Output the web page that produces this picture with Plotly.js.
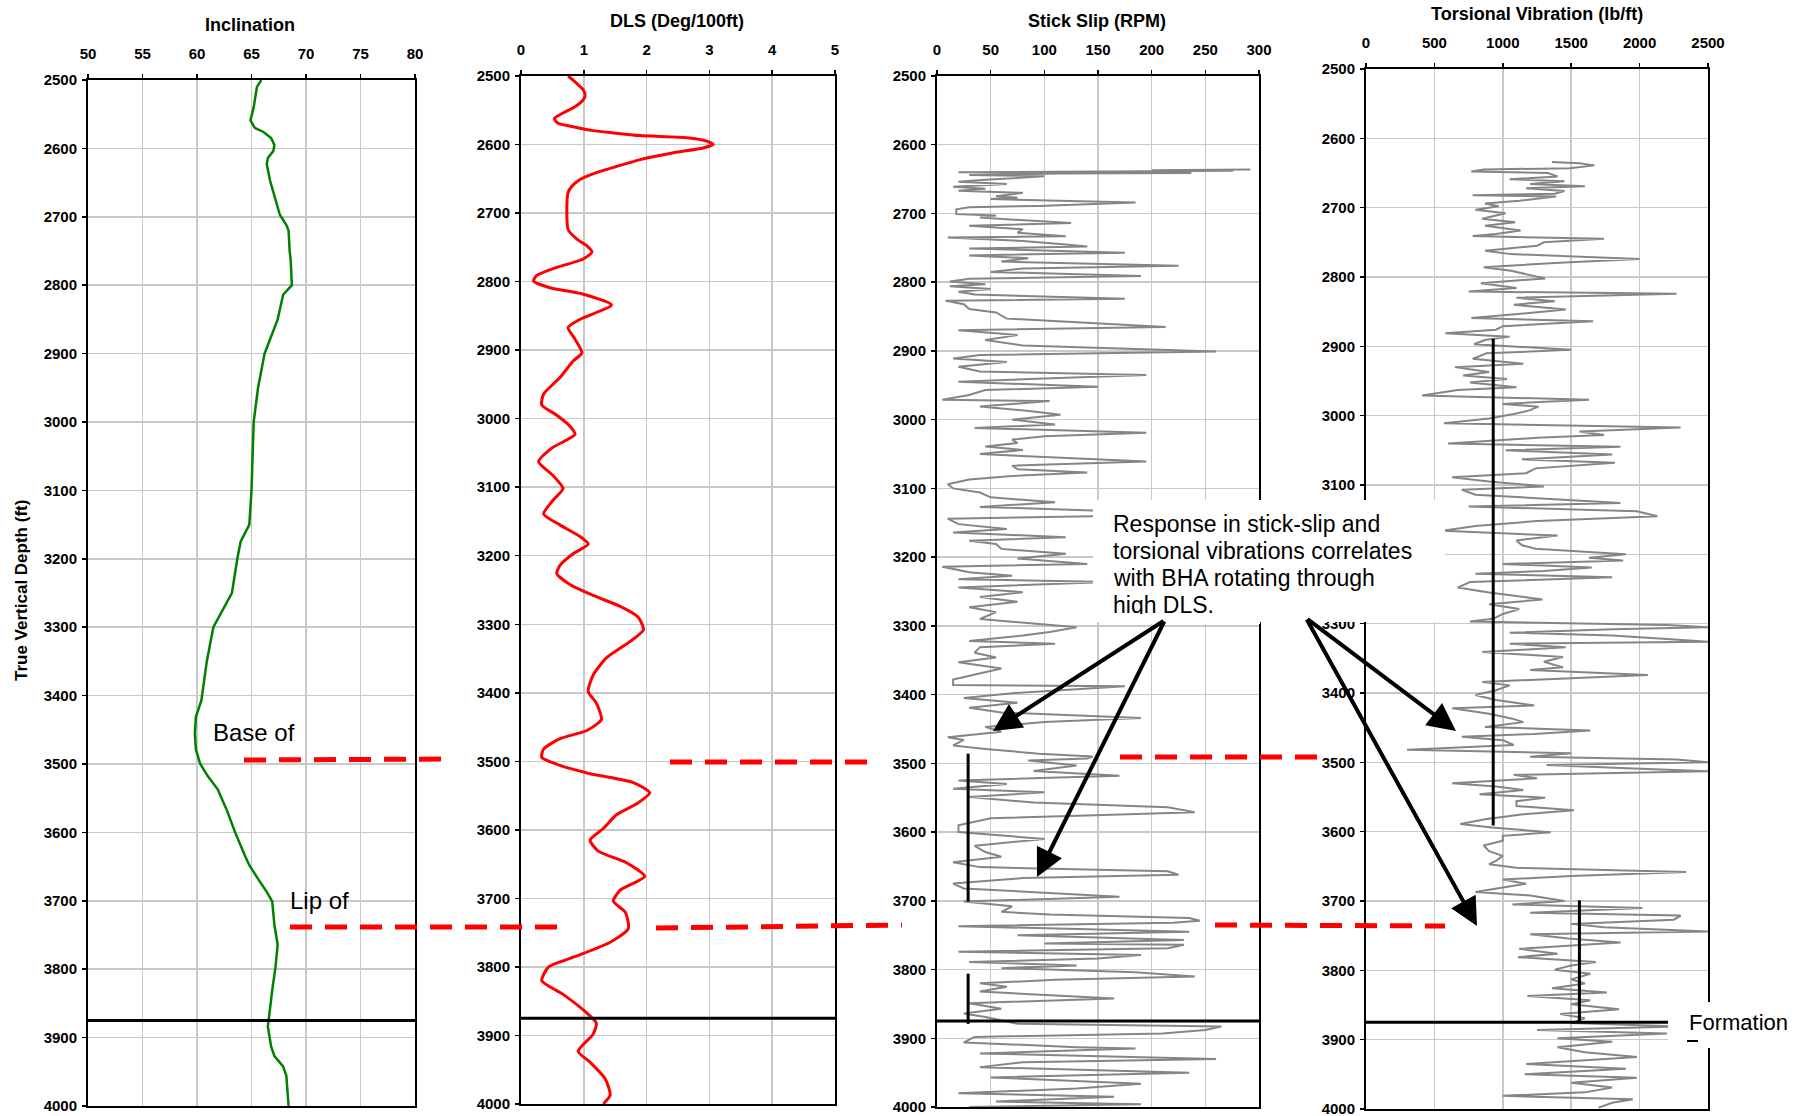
<!DOCTYPE html>
<html><head><meta charset="utf-8">
<script src="https://cdn.plot.ly/plotly-3.0.1.min.js"></script>
<style>html,body{margin:0;padding:0;background:#fff}#chart{width:1817px;height:1116px}</style>
</head><body><div id="chart"></div>
<script>
// ---------- DATA ----------
const depthTicks = [2500,2600,2700,2800,2900,3000,3100,3200,3300,3400,3500,3600,3700,3800,3900,4000];
const formationDepth = 3875;

const incDepth = [2500,2510,2520,2540,2559,2570,2576,2585,2595,2604,2614,2623,2647,2671,2697,2712,2720,2750,2764,2800,2814,2850,2900,2950,3000,3100,3150,3175,3200,3250,3300,3350,3407,3431,3455,3479,3500,3518,3537,3566,3600,3634,3648,3668,3687,3701,3735,3764,3797,3831,3865,3884,3913,3927,3942,3956,4000];
const incDeg   = [65.9,65.5,65.4,65.2,64.9,65.3,66.1,66.8,67.1,67.0,66.5,66.4,66.7,67.1,67.6,68.2,68.4,68.5,68.6,68.7,67.9,67.4,66.2,65.6,65.2,65.0,64.8,64.0,63.7,63.2,61.5,60.9,60.4,59.9,59.8,59.9,60.3,61.0,61.9,62.7,63.5,64.4,64.8,65.6,66.4,66.9,67.1,67.4,67.2,66.9,66.6,66.5,66.8,67.1,67.9,68.2,68.4];

const dlsDepth = [2500,2506,2520,2528,2535,2545,2554,2562,2569,2574,2579,2583,2587,2590,2595,2600,2605,2612,2622,2632,2641,2651,2661,2670,2700,2724,2738,2748,2757,2767,2781,2791,2799,2809,2818,2834,2855,2867,2884,2904,2916,2940,2964,2980,2995,3011,3023,3043,3063,3083,3102,3119,3139,3155,3172,3183,3197,3214,3226,3242,3258,3274,3290,3308,3325,3349,3374,3398,3415,3439,3455,3467,3482,3494,3506,3518,3531,3546,3562,3578,3598,3615,3631,3648,3668,3688,3704,3720,3744,3764,3784,3800,3820,3840,3865,3882,3898,3923,3939,3963,3987,4000];
const dlsVal   = [0.75,0.83,0.99,1.02,0.99,0.86,0.67,0.53,0.59,0.83,1.1,1.47,1.9,2.64,2.96,3.06,2.9,2.43,1.9,1.52,1.2,0.94,0.81,0.75,0.73,0.75,0.89,1.05,1.13,0.99,0.51,0.25,0.2,0.46,0.98,1.44,0.94,0.75,0.86,0.97,0.83,0.62,0.36,0.33,0.57,0.78,0.86,0.49,0.28,0.51,0.67,0.51,0.36,0.62,0.94,1.07,0.83,0.62,0.57,0.78,1.15,1.58,1.87,1.95,1.74,1.36,1.15,1.07,1.2,1.28,1.05,0.62,0.36,0.33,0.62,1.1,1.79,2.05,1.84,1.52,1.31,1.1,1.23,1.68,1.97,1.58,1.47,1.66,1.71,1.42,0.89,0.44,0.33,0.67,1.02,1.2,1.15,0.91,1.1,1.34,1.42,1.31];

const ssDepth = [2636,2637,2638,2639,2640,2641,2642,2644,2646,2651,2654,2657,2661,2664,2667,2670,2675,2677,2679,2684,2689,2691,2694,2701,2703,2706,2711,2714,2718,2723,2728,2733,2735,2740,2745,2748,2751,2757,2761,2765,2770,2776,2780,2785,2791,2795,2799,2803,2806,2810,2814,2818,2824,2827,2832,2839,2844,2853,2865,2870,2877,2884,2892,2901,2906,2911,2916,2923,2930,2935,2940,2945,2952,2957,2964,2971,2973,2981,2988,2993,3000,3007,3012,3019,3024,3029,3034,3039,3044,3050,3061,3067,3072,3077,3082,3087,3094,3100,3106,3113,3120,3127,3132,3140,3144,3152,3159,3164,3171,3176,3181,3188,3195,3202,3210,3214,3222,3227,3232,3236,3244,3251,3258,3265,3273,3280,3290,3302,3309,3314,3322,3326,3331,3339,3346,3353,3362,3372,3378,3386,3388,3398,3405,3412,3419,3426,3434,3440,3447,3454,3462,3466,3474,3479,3486,3490,3493,3496,3503,3511,3518,3525,3530,3537,3542,3549,3557,3564,3571,3575,3580,3590,3600,3610,3620,3629,3636,3644,3651,3657,3662,3667,3675,3682,3694,3701,3708,3716,3720,3725,3729,3732,3737,3745,3750,3757,3762,3764,3769,3774,3779,3784,3789,3794,3798,3804,3810,3815,3820,3825,3832,3842,3849,3857,3864,3869,3879,3883,3888,3893,3898,3906,3913,3915,3922,3930,3935,3942,3950,3957,3966,3973,3980,3985,3992,3996,4000];
const ssRpm   = [292,200,276,130,20,237,115,30,100,45,20,65,15,45,20,80,55,75,50,185,95,30,18,18,55,40,90,125,30,80,75,120,10,80,120,140,30,175,30,85,60,225,80,50,190,30,12,45,12,50,20,35,175,8,25,30,55,65,213,20,75,45,80,260,40,15,65,20,40,195,100,20,150,45,30,5,105,40,90,115,70,110,35,195,100,70,75,45,80,40,195,70,75,140,70,30,10,15,40,50,110,40,145,160,10,20,65,15,120,30,55,60,120,75,140,5,30,70,20,160,20,80,40,75,30,55,40,130,105,80,30,110,40,35,55,20,60,30,15,15,175,70,25,75,30,60,190,100,45,60,10,25,15,45,95,145,140,85,130,90,170,20,65,15,100,30,90,215,240,155,50,20,20,100,35,45,60,15,40,215,225,80,15,25,170,25,70,60,105,235,245,220,20,235,75,230,100,230,215,20,190,150,30,130,60,185,240,110,40,65,40,165,30,60,25,45,75,265,250,210,35,25,130,185,40,260,80,40,235,50,190,130,20,165,55,190,30];

const tvDepth = [2634,2636,2639,2643,2645,2648,2650,2655,2659,2662,2666,2669,2672,2676,2680,2682,2684,2688,2690,2694,2698,2703,2708,2716,2721,2726,2733,2738,2741,2745,2750,2755,2762,2767,2774,2779,2786,2791,2802,2809,2816,2821,2824,2830,2835,2840,2847,2853,2859,2864,2871,2876,2881,2886,2891,2897,2905,2910,2918,2925,2930,2937,2942,2947,2952,2959,2963,2971,2977,2983,2987,2992,2997,3004,3011,3017,3023,3028,3032,3040,3045,3050,3056,3063,3068,3076,3083,3089,3095,3102,3107,3114,3126,3131,3138,3145,3152,3159,3166,3173,3180,3187,3192,3200,3205,3209,3214,3219,3224,3228,3233,3240,3248,3255,3260,3265,3272,3279,3286,3293,3297,3302,3305,3308,3313,3317,3322,3326,3329,3334,3341,3348,3355,3363,3367,3374,3384,3389,3396,3403,3410,3418,3422,3430,3437,3442,3449,3454,3459,3463,3468,3475,3482,3487,3492,3496,3500,3504,3508,3513,3518,3523,3530,3535,3540,3546,3551,3556,3563,3569,3575,3582,3589,3594,3601,3606,3613,3620,3628,3635,3642,3647,3652,3658,3664,3669,3675,3681,3687,3692,3700,3705,3710,3717,3721,3727,3733,3738,3744,3748,3754,3760,3764,3769,3776,3781,3788,3793,3799,3805,3813,3819,3826,3832,3837,3843,3849,3856,3863,3869,3876,3881,3886,3891,3898,3903,3911,3918,3925,3930,3935,3942,3950,3955,3962,3969,3976,3981,3986,3991,3998];
const tvLbft  = [1360,1560,1670,1490,860,770,1330,1400,1050,1450,1200,1600,1170,1450,1380,780,1390,1230,1120,870,970,800,1020,850,1090,870,1130,950,780,1740,1300,1250,870,1060,2000,1450,860,1060,1310,840,1100,750,2270,1100,1380,1080,1460,1130,770,1660,1000,950,580,1050,870,790,1500,880,780,1150,650,900,710,1030,760,1100,670,410,1630,1000,1260,1200,1100,900,570,2300,1560,1740,1250,600,1860,1020,1800,1140,1820,1240,1170,630,900,1300,700,800,1860,750,1980,2130,1250,800,560,1400,1100,1140,1240,1900,1630,1880,1000,1650,1300,800,1800,760,670,900,1100,1290,900,1120,1000,930,760,2200,2500,1800,1050,1800,2200,2500,1050,1460,850,1440,1300,1440,1200,2060,850,1050,950,800,950,1230,630,900,1070,1150,870,1640,1230,700,1000,1080,300,1500,1200,2270,2500,1320,1860,2500,1080,1250,630,950,1150,830,1310,1100,1100,1520,1150,870,690,920,1350,1000,1000,860,900,1000,950,900,1100,2340,1500,1000,1170,1000,800,1200,1450,1070,2020,1200,2300,2250,1500,1740,2500,1200,1480,1860,1500,1120,1400,1110,1680,1500,1380,1640,1500,1600,1360,1760,1180,1640,1500,1850,1420,1600,1500,2300,1250,2200,1400,1800,1400,1600,1980,1600,1170,1900,1160,1980,1500,1800,1600,1000,1950,1800,1700];

const ssMeanDepth = [3486,3701,null,3806,3879];
const ssMeanRpm   = [29,29,null,29,29];
const tvMeanDepth = [2889,3591,null,3699,3876];
const tvMeanLbft  = [930,930,null,1560,1560];

// ---------- LAYOUT HELPERS ----------
const W = 1817, H = 1116;
const P = x => x / W;
const Q = y => 1 - y / H;
const FONT = 'Liberation Sans, Arial, sans-serif';
const panels = [
  {x0:88,  x1:415,  y0:80, y1:1106, range:[50,80],   dtick:5},
  {x0:521, x1:835,  y0:76, y1:1104, range:[0,5],     dtick:1},
  {x0:937, x1:1259, y0:76, y1:1107, range:[0,300],   dtick:50},
  {x0:1366,x1:1708, y0:69, y1:1109, range:[0,2500],  dtick:500}
];
// the callout box hides panel 4's 3200 label
const hiddenLabel = [null, null, null, 3200];

const layout = {
  width: W, height: H, autosize:false,
  margin:{l:0,r:0,t:0,b:0,pad:0},
  paper_bgcolor:'#ffffff', plot_bgcolor:'#ffffff',
  showlegend:false,
  font:{family:FONT, color:'#000'},
  shapes:[], annotations:[]
};

panels.forEach((p,i) => {
  const s = i === 0 ? '' : String(i+1);
  layout['xaxis'+s] = {
    domain:[P(p.x0), P(p.x1)], anchor:'y'+s, side:'top',
    range:p.range, tick0:p.range[0], dtick:p.dtick,
    showgrid:true, gridcolor:'#c8c8c8', gridwidth:1.5, zeroline:false,
    showline:true, linecolor:'#000', linewidth:2, mirror:true,
    ticks:'outside', ticklen:4, tickwidth:1.5, tickcolor:'#000',
    tickfont:{family:FONT, size:15, color:'#000', weight:'bold'},
    ticklabelstandoff:9, ticklabeloverflow:'allow', fixedrange:true
  };
  layout['yaxis'+s] = {
    domain:[Q(p.y1), Q(p.y0)], anchor:'x'+s,
    range:[4000,2500], tickvals:depthTicks,
    ticktext:depthTicks.map(d => d === hiddenLabel[i] ? '' : String(d)),
    showgrid:true, gridcolor:'#c8c8c8', gridwidth:1.5, zeroline:false,
    showline:true, linecolor:'#000', linewidth:2, mirror:true,
    ticks:'outside', ticklen:4, tickwidth:1.5, tickcolor:'#000',
    tickfont:{family:FONT, size:15, color:'#000', weight:'bold'},
    ticklabelstandoff:2, ticklabeloverflow:'allow', fixedrange:true
  };
  // formation line
  layout.shapes.push({type:'line', xref:'x'+s+' domain', yref:'y'+s, x0:0, x1:1,
    y0:formationDepth, y1:formationDepth, line:{color:'#000', width:3}, layer:'above'});
});

// red dashed marker lines (annotation graphics)
const dashSegs = [
  [244,760,452,759],[670,762,869,762],[1120,757,1329,757],
  [290,927,565,927],[656,928,902,925],[1215,925,1445,926]
];
dashSegs.forEach(d => layout.shapes.push({type:'line', xref:'paper', yref:'paper',
  x0:P(d[0]), y0:Q(d[1]), x1:P(d[2]), y1:Q(d[3]),
  line:{color:'#ff0000', width:5, dash:'22px,13px'}, layer:'above'}));

function txt(t, x, y, size, opts) {
  return Object.assign({text:t, x:P(x), y:Q(y), xref:'paper', yref:'paper', showarrow:false,
    xanchor:'center', yanchor:'middle', font:{family:FONT, size:size, color:'#000'}}, opts||{});
}
function rect(x0,y0,x1,y1,color) {
  return {text:' ', x:P(x0), y:Q(y0), xref:'paper', yref:'paper', showarrow:false,
    xanchor:'left', yanchor:'top', width:x1-x0, height:y1-y0, bgcolor:color||'#ffffff', borderpad:0, borderwidth:0};
}
function arrow(tx,ty,sx,sy) {
  return {text:'', x:P(tx), y:Q(ty), xref:'paper', yref:'paper', showarrow:true,
    ax:sx-tx, ay:sy-ty, axref:'pixel', ayref:'pixel', arrowhead:2, arrowsize:1.4,
    arrowwidth:4, arrowcolor:'#000', standoff:0, startstandoff:0};
}

const A = layout.annotations;
A.push(txt('<b>Inclination</b>', 250, 25, 18));
A.push(txt('<b>DLS (Deg/100ft)</b>', 677, 21, 18));
A.push(txt('<b>Stick Slip (RPM)</b>', 1097, 21, 18));
A.push(txt('<b>Torsional Vibration (lb/ft)</b>', 1537, 14, 18));
A.push(txt('<b>True Vertical Depth (ft)</b>', 21, 591, 17, {textangle:-90}));
A.push(txt('Base of', 211, 732, 24, {xanchor:'left'}));
A.push(txt('Lip of', 288, 900, 24, {xanchor:'left'}));
// callout box
A.push(rect(1093,500,1445,622));
const calloutLines = ['Response in stick-slip and','torsional vibrations correlates','with BHA rotating through','high DLS.'];
calloutLines.forEach((l,i) => A.push(txt(l, 1111, 524 + i*27, 23, {xanchor:'left'})));
A.push(rect(1100,614,1260,624));
// formation label
A.push(rect(1668,1002,1817,1048));
A.push(txt('Formation', 1687, 1022, 22, {xanchor:'left'}));
A.push(rect(1687,1040,1698,1041.5,'#000000'));
// arrows
A.push(arrow(993,731,1165,620));
A.push(arrow(1037,877,1165,620));
A.push(arrow(1456,731,1306,618));
A.push(arrow(1477,926,1306,618));

const traces = [
  {x:incDeg, y:incDepth, xaxis:'x', yaxis:'y', type:'scatter', mode:'lines',
   line:{color:'#008000', width:2.5}, hoverinfo:'skip'},
  {x:dlsVal, y:dlsDepth, xaxis:'x2', yaxis:'y2', type:'scatter', mode:'lines',
   line:{color:'#ff0000', width:3, shape:'spline', smoothing:0.6}, hoverinfo:'skip'},
  {x:ssRpm, y:ssDepth, xaxis:'x3', yaxis:'y3', type:'scatter', mode:'lines',
   line:{color:'#858585', width:2}, hoverinfo:'skip'},
  {x:tvLbft, y:tvDepth, xaxis:'x4', yaxis:'y4', type:'scatter', mode:'lines',
   line:{color:'#858585', width:2}, hoverinfo:'skip'},
  {x:ssMeanRpm, y:ssMeanDepth, xaxis:'x3', yaxis:'y3', type:'scatter', mode:'lines',
   line:{color:'#000', width:3}, connectgaps:false, hoverinfo:'skip'},
  {x:tvMeanLbft, y:tvMeanDepth, xaxis:'x4', yaxis:'y4', type:'scatter', mode:'lines',
   line:{color:'#000', width:3}, connectgaps:false, hoverinfo:'skip'}
];

Plotly.newPlot('chart', traces, layout, {staticPlot:true, displayModeBar:false});
</script>
</body></html>
